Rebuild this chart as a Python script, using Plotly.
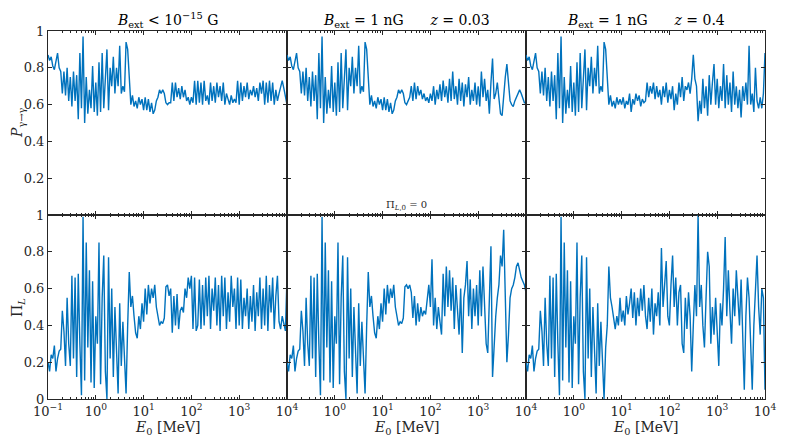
import numpy as np
import plotly.graph_objects as go
from plotly.subplots import make_subplots

# photon survival probability P_{gamma->gamma}
p_weak = [0.87, 0.84, 0.86, 0.81, 0.79, 0.84, 0.88, 0.80, 0.78, 0.66,
          0.78, 0.65, 0.80, 0.62, 0.75, 0.59, 0.78, 0.62, 0.76, 0.52,
          0.88, 0.58, 0.97, 0.50, 0.75, 0.55, 0.68, 0.58, 0.81, 0.56,
          0.72, 0.54, 0.83, 0.56, 0.88, 0.58, 0.76, 0.90, 0.57, 0.80,
          0.70, 0.86, 0.66, 0.80, 0.70, 0.92, 0.66, 0.70, 0.67, 0.94,
          0.90, 0.72, 0.60, 0.65, 0.59, 0.62, 0.58, 0.64, 0.60, 0.63,
          0.57, 0.64, 0.57, 0.63, 0.56, 0.61, 0.55, 0.57, 0.62, 0.64,
          0.68, 0.66, 0.68, 0.66, 0.61, 0.60, 0.61, 0.61, 0.72, 0.62,
          0.72, 0.64, 0.69, 0.63, 0.70, 0.64, 0.68, 0.62, 0.64, 0.60,
          0.64, 0.61, 0.73, 0.60, 0.73, 0.61, 0.72, 0.60, 0.73, 0.62,
          0.65, 0.60, 0.72, 0.62, 0.70, 0.61, 0.72, 0.64, 0.70, 0.62,
          0.72, 0.60, 0.66, 0.63, 0.60, 0.65, 0.61, 0.63, 0.61, 0.73,
          0.60, 0.72, 0.62, 0.70, 0.64, 0.72, 0.63, 0.68, 0.65, 0.70,
          0.64, 0.69, 0.62, 0.72, 0.66, 0.73, 0.60, 0.72, 0.61, 0.73,
          0.62, 0.72, 0.60, 0.68, 0.62, 0.66, 0.70, 0.73, 0.69, 0.64,
          0.60]

p_z003 = p_weak[:76] + [
          0.62, 0.64, 0.70, 0.62, 0.72, 0.63, 0.70, 0.65, 0.68, 0.63,
          0.66, 0.62, 0.64, 0.61, 0.66, 0.62, 0.70, 0.60, 0.68, 0.63,
          0.71, 0.62, 0.73, 0.64, 0.70, 0.61, 0.74, 0.62, 0.78, 0.63,
          0.70, 0.60, 0.74, 0.62, 0.72, 0.59, 0.71, 0.64, 0.75, 0.60,
          0.68, 0.62, 0.72, 0.60, 0.70, 0.59, 0.78, 0.64, 0.74, 0.62,
          0.68, 0.55, 0.72, 0.85, 0.63, 0.66, 0.72, 0.62, 0.55, 0.54,
          0.66, 0.75, 0.82, 0.70, 0.62, 0.60, 0.59, 0.62, 0.64, 0.66,
          0.68, 0.66, 0.63, 0.61, 0.61]

p_z04 = p_weak[:60] + [
          0.60, 0.64, 0.58, 0.62, 0.60, 0.66, 0.56, 0.63, 0.60, 0.66,
          0.62, 0.65, 0.59, 0.63, 0.61, 0.62, 0.72, 0.64, 0.70, 0.66,
          0.72, 0.63, 0.70, 0.64, 0.68, 0.60, 0.70, 0.64, 0.72, 0.61,
          0.68, 0.63, 0.70, 0.57, 0.66, 0.60, 0.72, 0.64, 0.75, 0.62,
          0.70, 0.68, 0.72, 0.66, 0.74, 0.87, 0.74, 0.70, 0.51, 0.62,
          0.55, 0.74, 0.58, 0.70, 0.54, 0.76, 0.60, 0.72, 0.82, 0.60,
          0.74, 0.58, 0.70, 0.62, 0.82, 0.58, 0.76, 0.60, 0.72, 0.56,
          0.78, 0.60, 0.70, 0.58, 0.68, 0.53, 0.70, 0.62, 0.72, 0.60,
          0.92, 0.60, 0.66, 0.56, 0.80, 0.62, 0.58, 0.64, 0.58, 0.66,
          0.88]

# linear polarization degree Pi_L
pi_weak = [0.20, 0.15, 0.24, 0.22, 0.29, 0.15, 0.22, 0.26, 0.27, 0.48,
           0.37, 0.18, 0.55, 0.30, 0.18, 0.67, 0.22, 0.66, 0.12, 0.68,
           0.30, 0.02, 0.99, 0.10, 0.85, 0.28, 0.70, 0.09, 0.64, 0.06,
           0.45, 0.30, 0.85, 0.08, 0.55, 0.78, 0.15, 0.00, 0.77, 0.22,
           0.60, 0.12, 0.50, 0.20, 0.03, 0.52, 0.18, 0.42, 0.25, 0.03,
           0.40, 0.69, 0.50, 0.56, 0.45, 0.36, 0.33, 0.45, 0.38, 0.52,
           0.42, 0.60, 0.46, 0.62, 0.52, 0.60, 0.55, 0.62, 0.50, 0.44,
           0.40, 0.42, 0.41, 0.44, 0.61, 0.62, 0.56, 0.60, 0.36, 0.56,
           0.40, 0.57, 0.38, 0.48, 0.50, 0.47, 0.60, 0.55, 0.66, 0.60,
           0.67, 0.38, 0.66, 0.37, 0.40, 0.65, 0.38, 0.62, 0.40, 0.66,
           0.45, 0.67, 0.38, 0.60, 0.48, 0.66, 0.40, 0.62, 0.37, 0.67,
           0.45, 0.66, 0.38, 0.58, 0.42, 0.67, 0.50, 0.60, 0.38, 0.66,
           0.40, 0.65, 0.38, 0.55, 0.45, 0.60, 0.38, 0.56, 0.42, 0.62,
           0.37, 0.58, 0.45, 0.66, 0.38, 0.60, 0.40, 0.67, 0.37, 0.62,
           0.47, 0.66, 0.38, 0.56, 0.67, 0.42, 0.38, 0.45, 0.40, 0.37,
           0.66]

pi_z003 = pi_weak[:76] + [
           0.60, 0.62, 0.58, 0.44, 0.56, 0.40, 0.52, 0.42, 0.50, 0.45,
           0.48, 0.46, 0.55, 0.62, 0.50, 0.76, 0.40, 0.55, 0.38, 0.50,
           0.42, 0.35, 0.68, 0.45, 0.72, 0.50, 0.70, 0.48, 0.66, 0.38,
           0.62, 0.45, 0.35, 0.60, 0.25, 0.55, 0.62, 0.75, 0.45, 0.65,
           0.38, 0.60, 0.45, 0.62, 0.40, 0.70, 0.45, 0.72, 0.50, 0.30,
           0.25, 0.60, 0.83, 0.12, 0.30, 0.45, 0.55, 0.62, 0.78, 0.72,
           0.92, 0.62, 0.20, 0.35, 0.55, 0.60, 0.62, 0.66, 0.72, 0.74,
           0.70, 0.66, 0.64, 0.62, 0.58]

pi_z04 = pi_weak[:49] + [
           0.00, 0.28, 0.40, 0.72, 0.55, 0.50, 0.45, 0.38, 0.45, 0.40,
           0.55, 0.42, 0.48, 0.40, 0.56, 0.46, 0.52, 0.60, 0.44, 0.58,
           0.40, 0.55, 0.45, 0.60, 0.48, 0.62, 0.45, 0.38, 0.55, 0.42,
           0.60, 0.35, 0.52, 0.45, 0.58, 0.40, 0.82, 0.50, 0.62, 0.75,
           0.45, 0.40, 0.62, 0.78, 0.50, 0.66, 0.40, 0.58, 0.62, 0.30,
           0.25, 0.55, 0.38, 0.58, 0.45, 0.15, 0.40, 0.62, 0.45, 1.00,
           0.50, 0.62, 0.40, 0.28, 0.55, 0.80, 0.72, 0.30, 0.50, 0.35,
           0.55, 0.40, 0.18, 0.52, 0.40, 0.60, 0.88, 0.45, 0.70, 0.48,
           0.30, 0.60, 0.45, 0.70, 0.55, 0.40, 0.65, 0.30, 0.05, 0.45,
           0.66, 0.55, 0.30, 0.05, 0.40, 0.62, 0.78, 0.50, 0.35, 0.60,
           0.55, 0.05]

titles = ["<i>B</i><sub>ext</sub> < 10<sup>\u221215</sup> G",
          "<i>B</i><sub>ext</sub> = 1 nG      <i>z</i> = 0.03",
          "<i>B</i><sub>ext</sub> = 1 nG      <i>z</i> = 0.4"]

x_ticks = [0.1, 1, 10, 100, 1000, 10000]
x_text = ["10<sup>\u22121</sup>", "10<sup>0</sup>", "10<sup>1</sup>",
          "10<sup>2</sup>", "10<sup>3</sup>", "10<sup>4</sup>"]
y_ticks = [0, 0.2, 0.4, 0.6, 0.8, 1]
y_text = ["0", "0.2", "0.4", "0.6", "0.8", "1"]

BLUE = "#0072BD"
AX = "#262626"
FONT = "DejaVu Serif"

fig = make_subplots(rows=2, cols=3, horizontal_spacing=0, vertical_spacing=0)

panels = [[p_weak, p_z003, p_z04], [pi_weak, pi_z003, pi_z04]]
for r, row in enumerate(panels):
    for c, y in enumerate(row):
        e0 = np.logspace(-1, 4, len(y))
        fig.add_trace(go.Scatter(x=e0, y=y, mode="lines",
                                 line=dict(color=BLUE, width=1.4),
                                 showlegend=False), row=r + 1, col=c + 1)

for r in range(2):
    for c in range(3):
        xt = list(x_text)
        if c > 0:
            xt[0] = ""
        fig.update_xaxes(type="log", range=[-1, 4], tickvals=x_ticks, ticktext=xt,
                         showticklabels=(r == 1), ticks="inside", ticklen=4,
                         tickcolor=AX, showline=True, linecolor=AX, linewidth=1,
                         mirror="ticks", showgrid=False, zeroline=False,
                         minor=dict(ticks="inside", ticklen=2, tickcolor=AX,
                                    dtick="D1", showgrid=False),
                         tickfont=dict(family=FONT, size=13, color=AX),
                         row=r + 1, col=c + 1)
        yt = list(y_text)
        if r == 0:
            yt[0] = ""
        fig.update_yaxes(range=[0, 1], tickvals=y_ticks, ticktext=yt,
                         showticklabels=(c == 0), ticks="inside", ticklen=4,
                         tickcolor=AX, showline=True, linecolor=AX, linewidth=1,
                         mirror="ticks", showgrid=False, zeroline=False,
                         tickfont=dict(family=FONT, size=13, color=AX),
                         row=r + 1, col=c + 1)

annos = []
for c, t in enumerate(titles):
    annos.append(dict(text=t, x=(c + 0.5) / 3, y=1.0, xref="paper", yref="paper",
                      xanchor="center", yanchor="bottom", yshift=-1, showarrow=False,
                      font=dict(family=FONT, size=14, color="black")))
    annos.append(dict(text="<i>E</i><sub>0</sub> [MeV]", x=(c + 0.5) / 3, y=0,
                      xref="paper", yref="paper", xanchor="center", yanchor="middle",
                      yshift=-29, showarrow=False,
                      font=dict(family=FONT, size=14, color=AX)))
annos.append(dict(text="<i>P</i><sub>\u03b3\u2192\u03b3</sub>", x=-0.042, y=0.75,
                  xref="paper", yref="paper", xanchor="center", yanchor="middle",
                  textangle=-90, showarrow=False,
                  font=dict(family=FONT, size=14, color=AX)))
annos.append(dict(text="\u03a0<sub><i>L</i></sub>", x=-0.042, y=0.25,
                  xref="paper", yref="paper", xanchor="center", yanchor="middle",
                  textangle=-90, showarrow=False,
                  font=dict(family=FONT, size=14, color=AX)))
annos.append(dict(text="\u03a0<sub><i>L</i>,0</sub> = 0", x=0.5, y=0.5,
                  xref="paper", yref="paper", xanchor="center", yanchor="bottom",
                  yshift=1, showarrow=False,
                  font=dict(family=FONT, size=10, color=AX)))

# page body has an 8px margin, so the figure is shrunk to fit the window
fig.update_layout(width=789, height=431, paper_bgcolor="white", plot_bgcolor="white",
                  margin=dict(l=40, r=32, t=23, b=40), annotations=annos)

fig.write_html("out.html")
